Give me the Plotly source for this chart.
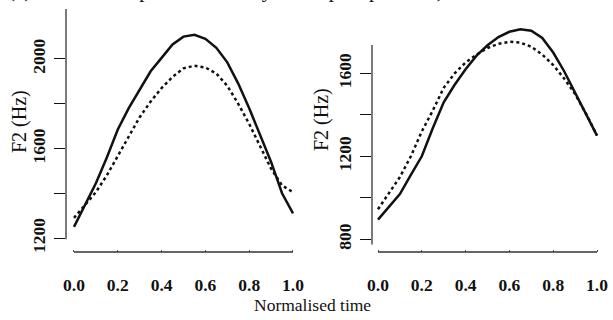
import plotly.graph_objects as go

# ---- data ----
time = [0.00, 0.05, 0.10, 0.15, 0.20, 0.25, 0.30, 0.35, 0.40, 0.45, 0.50,
        0.55, 0.60, 0.65, 0.70, 0.75, 0.80, 0.85, 0.90, 0.95, 1.00]

left_solid = [1250, 1345, 1445, 1560, 1685, 1780, 1865, 1945, 2005, 2065, 2100,
              2108, 2090, 2050, 1985, 1890, 1780, 1660, 1540, 1400, 1310]
left_dotted = [1290, 1345, 1405, 1480, 1565, 1655, 1740, 1810, 1870, 1920, 1958,
               1970, 1962, 1935, 1880, 1800, 1710, 1610, 1510, 1435, 1405]

right_solid = [895, 955, 1018, 1110, 1200, 1335, 1460, 1545, 1620, 1685, 1735,
               1775, 1800, 1812, 1805, 1770, 1700, 1610, 1505, 1405, 1300]
right_dotted = [945, 1020, 1100, 1200, 1320, 1420, 1530, 1600, 1652, 1690, 1722,
                1742, 1752, 1748, 1728, 1690, 1640, 1575, 1500, 1405, 1300]

x_ticks = [0.0, 0.2, 0.4, 0.6, 0.8, 1.0]
x_ticklabels = ["0.0", "0.2", "0.4", "0.6", "0.8", "1.0"]
left_yticks = [1200, 1400, 1600, 1800, 2000]
left_yticklabels = ["1200", "", "1600", "", "2000"]
right_yticks = [800, 1000, 1200, 1400, 1600]
right_yticklabels = ["800", "", "1200", "", "1600"]

W, H = 613, 320
FONT = "Liberation Serif"
BLACK = "#111111"

fig = go.Figure()
line_w = 2.5
fig.add_trace(go.Scatter(x=time, y=left_solid, mode="lines", xaxis="x", yaxis="y",
                         line=dict(color=BLACK, width=line_w)))
fig.add_trace(go.Scatter(x=time, y=left_dotted, mode="lines", xaxis="x", yaxis="y",
                         line=dict(color=BLACK, width=line_w, dash="dot")))
fig.add_trace(go.Scatter(x=time, y=right_solid, mode="lines", xaxis="x2", yaxis="y2",
                         line=dict(color=BLACK, width=line_w)))
fig.add_trace(go.Scatter(x=time, y=right_dotted, mode="lines", xaxis="x2", yaxis="y2",
                         line=dict(color=BLACK, width=line_w, dash="dot")))

ydom = [(H - 252) / H, 1.0]
tickfont = dict(family=FONT, size=17.5, color=BLACK, weight="bold")

common_x = dict(tickvals=x_ticks, ticktext=x_ticklabels, showgrid=False, zeroline=False,
                showline=False, ticks="inside", ticklen=2, tickcolor="#555",
                tickfont=tickfont, ticklabelstandoff=20, automargin=False)
common_y = dict(showgrid=False, zeroline=False, showline=False, ticks="outside",
                ticklen=11, tickcolor=BLACK, tickwidth=1.3, tickangle=-90,
                tickfont=tickfont, ticklabelstandoff=2, automargin=False)

fig.update_layout(
    width=W, height=H, margin=dict(l=0, r=0, t=0, b=0, autoexpand=False),
    paper_bgcolor="white", plot_bgcolor="white", showlegend=False,
    xaxis=dict(domain=[66 / W, 300 / W], range=[-0.0365, 1.032], anchor="y", **common_x),
    yaxis=dict(domain=ydom, range=[1137.6, 2263.6], anchor="x",
               tickvals=left_yticks, ticktext=left_yticklabels, **common_y),
    xaxis2=dict(domain=[372 / W, 605 / W], range=[-0.0274, 1.0365], anchor="y2", **common_x),
    yaxis2=dict(domain=ydom, range=[738.8, 1953.3], anchor="x2",
                tickvals=right_yticks, ticktext=right_yticklabels, **common_y),
)

# axis lines (R style, offset)
axis_line = dict(color="#333333", width=1.3)
fig.add_shape(type="line", xref="x domain", yref="y", x0=0, x1=0, y0=1195, y1=2223, line=axis_line)
fig.add_shape(type="line", xref="x", yref="y domain", x0=0, x1=1, y0=0, y1=0, line=axis_line)
fig.add_shape(type="line", xref="x2 domain", yref="y2", x0=0, x1=0, y0=775, y1=1736, line=axis_line)
fig.add_shape(type="line", xref="x2", yref="y2 domain", x0=0, x1=1, y0=0, y1=0, line=axis_line)

# titles
title_font = dict(family=FONT, size=20, color=BLACK)
fig.add_annotation(text="F2 (Hz)", x=19 / W, y=1 - 122 / H, xref="paper", yref="paper",
                   xanchor="center", yanchor="middle",
                   textangle=-90, showarrow=False, font=title_font)
fig.add_annotation(text="F2 (Hz)", x=321 / W, y=1 - 120 / H, xref="paper", yref="paper",
                   xanchor="center", yanchor="middle",
                   textangle=-90, showarrow=False, font=title_font)
fig.add_annotation(text="Normalised time", x=313 / W, y=1 - 305 / H, xref="paper", yref="paper",
                   xanchor="center", yanchor="middle",
                   showarrow=False, font=dict(family=FONT, size=17.5, color=BLACK))
# cut-off caption at the very top
fig.add_annotation(text="(a) Model with peak shift delay at the post position)",
                   x=6 / W, y=1, xref="paper", yref="paper", xanchor="left", yanchor="bottom",
                   yshift=-4, showarrow=False, font=dict(family=FONT, size=21, color=BLACK))

fig.write_html("out.html", config={"displayModeBar": False},
               post_script="document.body.style.margin='0';document.body.style.overflow='hidden';")
